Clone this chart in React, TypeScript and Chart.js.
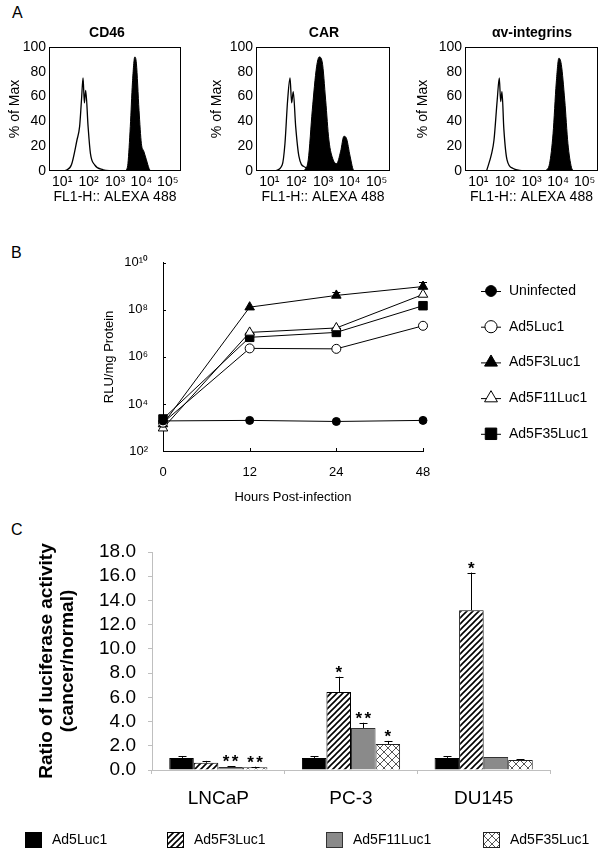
import React, { useEffect, useRef } from "react";
import { Chart, registerables } from "chart.js";
Chart.register(...registerables);

const FONT = "'Liberation Sans', Arial, Helvetica, sans-serif";
const SUP: Record<string, string> = { "0": "⁰", "1": "¹", "2": "²", "3": "³", "4": "⁴", "5": "⁵", "6": "⁶", "7": "⁷", "8": "⁸", "9": "⁹" };
const pow10 = (e: number) => "10" + String(Math.round(e)).split("").map((d) => SUP[d]).join("");

// ---------- Panel A: flow cytometry histograms (x in log10 fluorescence, y in % of max) ----------
const histDecades = [1, 2, 3, 4, 5];
const pctTicks = [0, 20, 40, 60, 80, 100];
const cd46CtrlX = [1.1, 1.35, 1.56, 1.66, 1.73, 1.79, 1.84, 1.89, 1.98, 2.07, 2.23, 2.55, 2.9];
const cd46CtrlY = [0, 5, 25, 36, 57, 75, 55, 65, 36, 14, 5, 1, 0];
const cd46StainX = [3.41, 3.49, 3.58, 3.66, 3.75, 3.81, 3.91, 4.0, 4.09, 4.19, 4.29, 4.35];
const cd46StainY = [0, 6, 36, 71, 92, 87, 49, 22, 16, 9, 2, 0];
const carCtrlX = [1.21, 1.48, 1.58, 1.68, 1.77, 1.83, 1.89, 1.98, 2.1, 2.33, 2.83];
const carCtrlY = [0, 5, 22, 57, 75, 55, 64, 36, 12, 3, 0];
const carStainX = [2.3, 2.45, 2.6, 2.76, 2.86, 2.97, 3.1, 3.22, 3.38, 3.51, 3.66, 3.78, 3.88, 4.01, 4.13, 4.19];
const carStainY = [0, 9, 49, 84, 92, 88, 57, 25, 9, 6, 16, 28, 26, 12, 1, 0];
const avCtrlX = [1.31, 1.5, 1.59, 1.71, 1.79, 1.84, 1.89, 1.96, 2.08, 2.31, 2.68];
const avCtrlY = [0, 14, 25, 57, 75, 56, 64, 34, 9, 2, 0];
const avStainX = [3.53, 3.68, 3.81, 3.93, 4.03, 4.12, 4.25, 4.37, 4.5, 4.58];
const avStainY = [0, 6, 30, 71, 91, 86, 57, 22, 3, 0];

// ---------- Panel B: luciferase time course ----------
const hours = ["0", "12", "24", "48"];
const rluTicks = [1e2, 1e4, 1e6, 1e8, 1e10];
const uninfected = [1.9e3, 2.0e3, 1.8e3, 2.0e3];
const ad5Luc1 = [1.6e3, 2.3e6, 2.2e6, 2.1e7];
const ad5F3Luc1 = [1.4e3, 1.3e8, 4.1e8, 9.8e8];
const ad5F11Luc1 = [9.3e2, 1.1e7, 1.7e7, 4.5e8];
const ad5F35Luc1 = [2.3e3, 6.8e6, 1.1e7, 1.5e8];
const ad5F3Luc1Upper = [null, null, 5.5e8, 1.6e9];

// ---------- Panel C: ratio cancer/normal ----------
const cellLines = ["LNCaP", "PC-3", "DU145"];
const ratioAd5Luc1 = [1.0, 1.0, 1.0];
const ratioAd5F3Luc1 = [0.6, 6.45, 13.2];
const ratioAd5F11Luc1 = [0.25, 3.47, 1.07];
const ratioAd5F35Luc1 = [0.22, 2.15, 0.83];
const errAd5Luc1 = [0.15, 0.15, 0.15];
const errAd5F3Luc1 = [0.15, 1.25, 3.1];
const errAd5F11Luc1 = [0.08, 0.43, 0];
const errAd5F35Luc1 = [0.05, 0.25, 0.07];
const sigAd5Luc1 = ["", "", ""];
const sigAd5F3Luc1 = ["", "*", "*"];
const sigAd5F11Luc1 = ["**", "**", ""];
const sigAd5F35Luc1 = ["**", "*", ""];

// ---------- plugins ----------
const framePlugin = {
  id: "frame",
  afterDatasetsDraw(chart: any) {
    const { ctx, chartArea: a } = chart;
    ctx.save();
    ctx.strokeStyle = "#000";
    ctx.lineWidth = 1;
    ctx.strokeRect(Math.round(a.left) + 0.5, Math.round(a.top) + 0.5, Math.round(a.right - a.left) - 1, Math.round(a.bottom - a.top) - 1);
    ctx.restore();
  },
};

const textsPlugin = {
  id: "texts",
  afterDraw(chart: any, _a: any, opts: any) {
    const ctx = chart.ctx;
    for (const t of opts.items || []) {
      ctx.save();
      ctx.font = t.font;
      ctx.fillStyle = "#000";
      ctx.textAlign = "center";
      ctx.textBaseline = "middle";
      ctx.fillText(t.text, t.x, t.y);
      ctx.restore();
    }
  },
};

// short tick marks pointing into the plot area
const innerTicksPlugin = {
  id: "innerTicks",
  afterDraw(chart: any, _a: any, o: any) {
    const ctx = chart.ctx;
    const { x, y } = chart.scales;
    const a = chart.chartArea;
    const len = o.len || 3;
    ctx.save();
    ctx.strokeStyle = "#000";
    ctx.lineWidth = 1;
    ctx.beginPath();
    x.ticks.forEach((_t: any, i: number) => {
      const px = Math.round(x.getPixelForTick(i)) + 0.5;
      ctx.moveTo(px, a.bottom);
      ctx.lineTo(px, a.bottom - len);
    });
    y.ticks.forEach((_t: any, i: number) => {
      const py = Math.round(y.getPixelForTick(i)) + 0.5;
      ctx.moveTo(a.left, py);
      ctx.lineTo(a.left + len, py);
    });
    ctx.stroke();
    ctx.restore();
  },
};

function drawMarker(ctx: CanvasRenderingContext2D, style: string, x: number, y: number, r: number, fill: string) {
  ctx.beginPath();
  if (style === "circle") {
    ctx.arc(x, y, r, 0, Math.PI * 2);
  } else if (style === "triangle") {
    let rad = 0;
    ctx.moveTo(x + Math.sin(rad) * r, y - Math.cos(rad) * r);
    rad += (2 * Math.PI) / 3;
    ctx.lineTo(x + Math.sin(rad) * r, y - Math.cos(rad) * r);
    rad += (2 * Math.PI) / 3;
    ctx.lineTo(x + Math.sin(rad) * r, y - Math.cos(rad) * r);
    ctx.closePath();
  } else {
    const s = Math.SQRT1_2 * r;
    ctx.rect(x - s, y - s, 2 * s, 2 * s);
  }
  ctx.fillStyle = fill;
  ctx.fill();
  ctx.strokeStyle = "#000";
  ctx.lineWidth = 1;
  ctx.stroke();
}

const lineLegendPlugin = {
  id: "lineLegend",
  afterDraw(chart: any, _a: any, o: any) {
    const ctx = chart.ctx;
    chart.data.datasets.forEach((ds: any, i: number) => {
      const y = o.y0 + i * o.dy;
      ctx.save();
      ctx.strokeStyle = "#000";
      ctx.lineWidth = 1;
      ctx.beginPath();
      ctx.moveTo(o.x - 10, y + 0.5);
      ctx.lineTo(o.x + 10, y + 0.5);
      ctx.stroke();
      drawMarker(ctx, ds.pointStyle, o.x, y, ds.pointRadius * o.scale, ds.pointBackgroundColor);
      ctx.font = o.font;
      ctx.fillStyle = "#000";
      ctx.textAlign = "left";
      ctx.textBaseline = "middle";
      ctx.fillText(ds.label, o.x + 18, y);
      ctx.restore();
    });
  },
};

const rluErrPlugin = {
  id: "rluErr",
  beforeDatasetsDraw(chart: any, _a: any, o: any) {
    const ctx = chart.ctx;
    const ys = chart.scales.y;
    for (const e of o.bars || []) {
      const meta = chart.getDatasetMeta(e.dataset);
      e.upper.forEach((u: number | null, j: number) => {
        if (u == null) return;
        const p = meta.data[j];
        const yt = ys.getPixelForValue(u);
        ctx.save();
        ctx.strokeStyle = "#000";
        ctx.lineWidth = 1;
        ctx.beginPath();
        ctx.moveTo(Math.round(p.x) + 0.5, p.y);
        ctx.lineTo(Math.round(p.x) + 0.5, yt);
        ctx.moveTo(p.x - 4, Math.round(yt) + 0.5);
        ctx.lineTo(p.x + 4, Math.round(yt) + 0.5);
        ctx.stroke();
        ctx.restore();
      });
    }
  },
};

const barErrPlugin = {
  id: "barErr",
  afterDatasetsDraw(chart: any, _a: any, o: any) {
    const ctx = chart.ctx;
    const ys = chart.scales.y;
    chart.data.datasets.forEach((ds: any, i: number) => {
      const meta = chart.getDatasetMeta(i);
      const errs = o.errors[i];
      const sigs = o.sigs[i];
      ds.data.forEach((v: number, j: number) => {
        const bar = meta.data[j];
        const x = Math.round(bar.x) + 0.5;
        const yTop = ys.getPixelForValue(v + errs[j]);
        ctx.save();
        ctx.strokeStyle = "#000";
        ctx.lineWidth = 1;
        if (errs[j] > 0) {
          ctx.beginPath();
          ctx.moveTo(x, bar.y);
          ctx.lineTo(x, yTop);
          ctx.moveTo(x - 4, Math.round(yTop) + 0.5);
          ctx.lineTo(x + 4, Math.round(yTop) + 0.5);
          ctx.stroke();
        }
        const s = sigs[j];
        if (s) {
          ctx.font = o.sigFont;
          ctx.fillStyle = "#000";
          ctx.textAlign = "center";
          ctx.textBaseline = "alphabetic";
          const n = s.length;
          for (let k = 0; k < n; k++) {
            ctx.fillText("*", bar.x + (k - (n - 1) / 2) * 9, yTop + 1);
          }
        }
        ctx.restore();
      });
    });
  },
};

const boxLegendPlugin = {
  id: "boxLegend",
  afterDraw(chart: any, _a: any, o: any) {
    const ctx = chart.ctx;
    chart.data.datasets.forEach((ds: any, i: number) => {
      const x = o.xs[i];
      const y = o.y;
      ctx.save();
      ctx.fillStyle = ds.backgroundColor;
      ctx.fillRect(x, y, o.w, o.h);
      ctx.strokeStyle = ds.borderColor;
      ctx.lineWidth = 1;
      ctx.strokeRect(x + 0.5, y + 0.5, o.w - 1, o.h - 1);
      ctx.font = o.font;
      ctx.fillStyle = "#000";
      ctx.textAlign = "left";
      ctx.textBaseline = "middle";
      ctx.fillText(ds.label, x + o.w + 10, y + o.h / 2);
      ctx.restore();
    });
  },
};

// ---------- helpers ----------
const pts = (xs: number[], ys: number[]) => xs.map((x, i) => ({ x, y: ys[i] }));

function histConfig(o: any) {
  const f14 = { family: FONT, size: 14 };
  return {
    type: "line",
    data: {
      datasets: [
        { data: pts(o.stainX, o.stainY), borderColor: "#000", backgroundColor: "#000", borderWidth: 1, fill: "origin", pointRadius: 0, cubicInterpolationMode: "monotone" },
        { data: pts(o.ctrlX, o.ctrlY), borderColor: "#000", borderWidth: 1.3, fill: false, pointRadius: 0, cubicInterpolationMode: "monotone" },
      ],
    },
    options: {
      responsive: false,
      animation: false,
      devicePixelRatio: 1,
      events: [],
      layout: { padding: { left: 0, right: o.padRight, top: 27, bottom: 0 } },
      plugins: {
        legend: { display: false },
        tooltip: { enabled: false },
        texts: { items: [{ text: o.title, x: o.titleX, y: 13, font: `bold 14px ${FONT}` }] },
      },
      scales: {
        x: {
          type: "linear",
          min: 0.5,
          max: 5.5,
          afterBuildTicks: (s: any) => { s.ticks = histDecades.map((v) => ({ value: v })); },
          ticks: { callback: (v: number) => pow10(v), font: f14, color: "#000", padding: 3, maxRotation: 0, autoSkip: false },
          grid: { display: false, drawTicks: false },
          border: { display: false },
          title: { display: true, text: "FL1-H:: ALEXA 488", font: f14, color: "#000", padding: { top: 0, bottom: 4 } },
          afterFit: (s: any) => { s.height = 39; },
        },
        y: {
          min: 0,
          max: 100,
          afterBuildTicks: (s: any) => { s.ticks = pctTicks.map((v) => ({ value: v })); },
          ticks: { font: f14, color: "#000", padding: 3, autoSkip: false },
          grid: { display: false, drawTicks: false },
          border: { display: false },
          title: { display: true, text: "% of Max", font: f14, color: "#000", padding: { top: o.yTitlePad, bottom: 0 } },
          afterFit: (s: any) => { s.width = o.yw; },
        },
      },
    },
    plugins: [framePlugin, textsPlugin],
  };
}

function lineConfig() {
  const f13 = { family: FONT, size: 13 };
  const common = { borderColor: "#000", borderWidth: 1, pointBorderColor: "#000", pointBorderWidth: 1, fill: false, tension: 0 };
  return {
    type: "line",
    data: {
      labels: hours,
      datasets: [
        { ...common, label: "Uninfected", data: uninfected, pointStyle: "circle", pointRadius: 4, pointBackgroundColor: "#000" },
        { ...common, label: "Ad5Luc1", data: ad5Luc1, pointStyle: "circle", pointRadius: 4.5, pointBackgroundColor: "#fff" },
        { ...common, label: "Ad5F3Luc1", data: ad5F3Luc1, pointStyle: "triangle", pointRadius: 5.5, pointBackgroundColor: "#000" },
        { ...common, label: "Ad5F11Luc1", data: ad5F11Luc1, pointStyle: "triangle", pointRadius: 5.5, pointBackgroundColor: "#fff" },
        { ...common, label: "Ad5F35Luc1", data: ad5F35Luc1, pointStyle: "rect", pointRadius: 6, pointBackgroundColor: "#000" },
      ],
    },
    options: {
      responsive: false,
      animation: false,
      devicePixelRatio: 1,
      events: [],
      layout: { padding: { left: 0, right: 180, top: 22, bottom: 0 } },
      plugins: {
        legend: { display: false },
        tooltip: { enabled: false },
        lineLegend: { x: 491, y0: 51, dy: 35.7, scale: 1.35, font: `14px ${FONT}` },
        rluErr: { bars: [{ dataset: 2, upper: ad5F3Luc1Upper }] },
        innerTicks: { len: 3 },
      },
      scales: {
        x: {
          type: "category",
          offset: false,
          grid: { display: false, drawTicks: false },
          border: { color: "#000" },
          ticks: { font: f13, color: "#000", padding: 14, autoSkip: false },
          title: { display: true, text: "Hours Post-infection", font: f13, color: "#000", padding: { top: 0, bottom: 5 } },
          afterFit: (s: any) => { s.height = 59; },
        },
        y: {
          type: "logarithmic",
          min: 1e2,
          max: 1e10,
          afterBuildTicks: (s: any) => { s.ticks = rluTicks.map((v) => ({ value: v })); },
          ticks: { callback: (v: number) => pow10(Math.log10(v)), font: f13, color: "#000", padding: 15, autoSkip: false },
          grid: { display: false, drawTicks: false },
          border: { color: "#000" },
          title: { display: true, text: "RLU/mg Protein", font: f13, color: "#000", padding: { top: 102, bottom: 0 } },
          afterFit: (s: any) => { s.width = 163; },
        },
      },
    },
    plugins: [lineLegendPlugin, rluErrPlugin, innerTicksPlugin],
  };
}

function makeHatch() {
  const c = document.createElement("canvas");
  c.width = 6;
  c.height = 6;
  const g = c.getContext("2d")!;
  g.fillStyle = "#fff";
  g.fillRect(0, 0, 6, 6);
  g.strokeStyle = "#000";
  g.lineWidth = 1.6;
  g.beginPath();
  g.moveTo(-1, 7); g.lineTo(7, -1);
  g.moveTo(-4, 4); g.lineTo(4, -4);
  g.moveTo(2, 10); g.lineTo(10, 2);
  g.stroke();
  return g.createPattern(c, "repeat");
}

function makeCross() {
  const c = document.createElement("canvas");
  c.width = 8;
  c.height = 8;
  const g = c.getContext("2d")!;
  g.fillStyle = "#fff";
  g.fillRect(0, 0, 8, 8);
  g.strokeStyle = "#555";
  g.lineWidth = 1;
  g.beginPath();
  g.moveTo(0, 0); g.lineTo(8, 8);
  g.moveTo(8, 0); g.lineTo(0, 8);
  g.stroke();
  return g.createPattern(c, "repeat");
}

function barConfig() {
  const f19 = { family: FONT, size: 19 };
  const gray = "#bfbfbf";
  return {
    type: "bar",
    data: {
      labels: cellLines,
      datasets: [
        { label: "Ad5Luc1", data: ratioAd5Luc1, backgroundColor: "#000", borderColor: "#000", borderWidth: 1 },
        { label: "Ad5F3Luc1", data: ratioAd5F3Luc1, backgroundColor: makeHatch(), borderColor: "#000", borderWidth: 1 },
        { label: "Ad5F11Luc1", data: ratioAd5F11Luc1, backgroundColor: "#8a8a8a", borderColor: "#333", borderWidth: 1 },
        { label: "Ad5F35Luc1", data: ratioAd5F35Luc1, backgroundColor: makeCross(), borderColor: "#222", borderWidth: 1 },
      ],
    },
    options: {
      responsive: false,
      animation: false,
      devicePixelRatio: 1,
      events: [],
      datasets: { bar: { categoryPercentage: 0.74, barPercentage: 1 } },
      layout: { padding: { left: 0, right: 53, top: 32, bottom: 37 } },
      plugins: {
        legend: { display: false },
        tooltip: { enabled: false },
        barErr: {
          errors: [errAd5Luc1, errAd5F3Luc1, errAd5F11Luc1, errAd5F35Luc1],
          sigs: [sigAd5Luc1, sigAd5F3Luc1, sigAd5F11Luc1, sigAd5F35Luc1],
          sigFont: `bold 17px ${FONT}`,
        },
        boxLegend: { xs: [25, 167, 326, 483], y: 312, w: 17, h: 16, font: `14px ${FONT}` },
      },
      scales: {
        x: {
          grid: { display: true, drawOnChartArea: false, drawTicks: true, tickLength: 4, color: gray },
          border: { color: gray },
          ticks: { font: f19, color: "#000", padding: 13, autoSkip: false },
          afterFit: (s: any) => { s.height = 45; },
        },
        y: {
          min: 0,
          max: 18,
          ticks: { stepSize: 2, autoSkip: false, callback: (v: number) => v.toFixed(1), font: f19, color: "#000", padding: 12 },
          grid: { display: true, drawOnChartArea: false, drawTicks: true, tickLength: 4, color: gray },
          border: { color: gray },
          title: {
            display: true,
            text: ["Ratio of luciferase activity", "(cancer/normal)"],
            font: { family: FONT, size: 19, weight: "bold", lineHeight: 1.1 },
            color: "#000",
            padding: { top: 36.5, bottom: 0 },
          },
          afterFit: (s: any) => { s.width = 152; },
        },
      },
    },
    plugins: [barErrPlugin, boxLegendPlugin],
  };
}

function ChartCanvas(props: { left: number; top: number; width: number; height: number; make: () => any }) {
  const ref = useRef<HTMLCanvasElement | null>(null);
  useEffect(() => {
    const chart = new Chart(ref.current as HTMLCanvasElement, props.make());
    return () => chart.destroy();
  }, []);
  return (
    <canvas
      ref={ref}
      width={props.width}
      height={props.height}
      style={{ position: "absolute", left: props.left, top: props.top, width: props.width, height: props.height }}
    />
  );
}

const letterStyle = (left: number, top: number): React.CSSProperties => ({
  position: "absolute",
  left,
  top,
  fontFamily: FONT,
  fontSize: 16,
  lineHeight: "20px",
  color: "#000",
});

export default function App() {
  return (
    <div style={{ position: "absolute", left: 0, top: 0, width: 603, height: 852, overflow: "hidden", background: "#fff" }}>
      <div style={letterStyle(12, 3)}>A</div>
      <div style={letterStyle(11, 243)}>B</div>
      <div style={letterStyle(11, 520)}>C</div>
      <ChartCanvas left={0} top={20} width={200} height={190}
        make={() => histConfig({ title: "CD46", ctrlX: cd46CtrlX, ctrlY: cd46CtrlY, stainX: cd46StainX, stainY: cd46StainY, yw: 49, yTitlePad: 6.6, padRight: 19, titleX: 107 })} />
      <ChartCanvas left={207} top={20} width={200} height={190}
        make={() => histConfig({ title: "CAR", ctrlX: carCtrlX, ctrlY: carCtrlY, stainX: carStainX, stainY: carStainY, yw: 49, yTitlePad: 1.6, padRight: 17, titleX: 117 })} />
      <ChartCanvas left={410} top={20} width={193} height={190}
        make={() => histConfig({ title: "αv-integrins", ctrlX: avCtrlX, ctrlY: avCtrlY, stainX: avStainX, stainY: avStainY, yw: 55, yTitlePad: 4.6, padRight: 5, titleX: 122 })} />
      <ChartCanvas left={0} top={240} width={603} height={270} make={lineConfig} />
      <ChartCanvas left={0} top={520} width={603} height={332} make={barConfig} />
    </div>
  );
}
